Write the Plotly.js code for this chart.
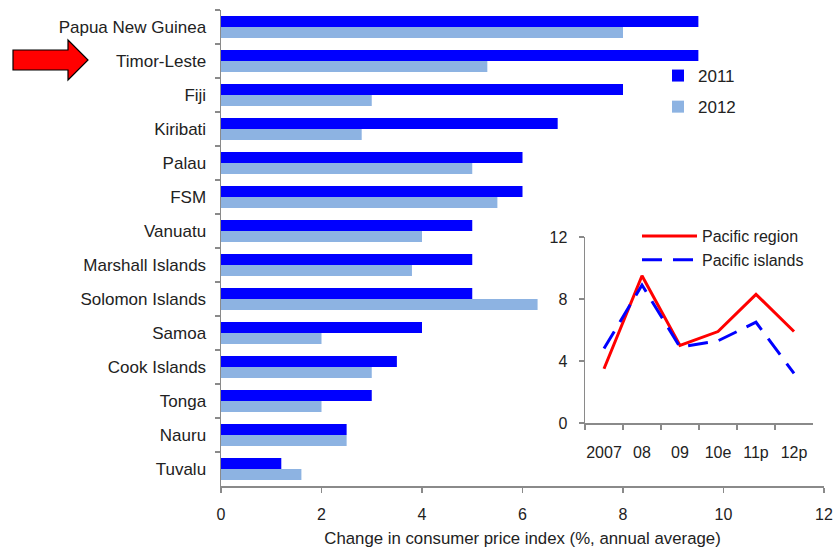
<!DOCTYPE html>
<html><head><meta charset="utf-8">
<script src="https://cdn.plot.ly/plotly-3.0.1.min.js"></script>
<style>html,body{margin:0;padding:0;background:#fff}</style>
</head><body><div id="chart" style="width:834px;height:552px"></div>
<script>
// ---- data ----
const countries = ["Papua New Guinea","Timor-Leste","Fiji","Kiribati","Palau","FSM","Vanuatu","Marshall Islands","Solomon Islands","Samoa","Cook Islands","Tonga","Nauru","Tuvalu"];
const cpi2011 = [9.5, 9.5, 8.0, 6.7, 6.0, 6.0, 5.0, 5.0, 5.0, 4.0, 3.5, 3.0, 2.5, 1.2];
const cpi2012 = [8.0, 5.3, 3.0, 2.8, 5.0, 5.5, 4.0, 3.8, 6.3, 2.0, 3.0, 2.0, 2.5, 1.6];
const insetYears = ["2007","08","09","10e","11p","12p"];
const pacificRegion = [3.5, 9.5, 5.0, 5.9, 8.3, 5.9];
const pacificIslands = [4.8, 8.9, 4.9, 5.3, 6.5, 3.2];
const xTicks = [0, 2, 4, 6, 8, 10, 12];

// ---- geometry helpers (pixel -> paper) ----
const W = 834, H = 552, L = 221, R = 10, T = 10, B = 66;
const PW = W - L - R, PH = H - T - B;
const px = x => (x - L) / PW;
const py = y => (H - B - y) / PH;

const FONT = "Liberation Sans, Arial, sans-serif";
const TXT = "#222";
const AX = "#8a8a8a";

const traces = [
  {type: "bar", orientation: "h", name: "2011", y: countries, x: cpi2011,
   marker: {color: "#0000FF"}, legend: "legend", legendgroup: "a", hoverinfo: "x+y"},
  {type: "bar", orientation: "h", name: "2012", y: countries, x: cpi2012,
   marker: {color: "#8DB3E2"}, legend: "legend", legendgroup: "b", hoverinfo: "x+y"},
  {type: "scatter", mode: "lines", name: "Pacific region", x: insetYears, y: pacificRegion,
   xaxis: "x2", yaxis: "y2", line: {color: "#FF0000", width: 3}, legend: "legend2"},
  {type: "scatter", mode: "lines", name: "Pacific islands", x: insetYears, y: pacificIslands,
   xaxis: "x2", yaxis: "y2", line: {color: "#0000FF", width: 3, dash: "20px,11px"}, legend: "legend2"}
];

const arrowPts = [[13,50],[68,50],[68,40],[88,60],[68,80],[68,70],[13,70]];
const arrowPath = "M" + arrowPts.map(p => px(p[0]).toFixed(5) + "," + py(p[1]).toFixed(5)).join(" L") + " Z";

const layout = {
  width: W, height: H,
  margin: {l: L, r: R, t: T, b: B, pad: 0},
  paper_bgcolor: "#fff", plot_bgcolor: "rgba(0,0,0,0)",
  font: {family: FONT, color: TXT, size: 16},
  barmode: "group", bargap: 0.36, bargroupgap: 0,
  showlegend: true,
  xaxis: {
    range: [0, 12], tickvals: xTicks, ticks: "outside", ticklen: 5, tickcolor: AX, tickwidth: 1.5,
    showline: true, linecolor: AX, linewidth: 1.5, showgrid: false, zeroline: false,
    tickfont: {size: 16, color: TXT}, ticklabelstandoff: 8,
    title: {text: "Change in consumer price index (%, annual average)", font: {size: 16.8, color: TXT}, standoff: 10},
    fixedrange: true
  },
  yaxis: {
    type: "category", autorange: "reversed", tickson: "boundaries",
    ticks: "outside", ticklen: 5, tickcolor: AX, tickwidth: 1.5,
    showline: true, linecolor: AX, linewidth: 1.5, showgrid: false, zeroline: false,
    tickfont: {size: 17, color: TXT}, ticklabelstandoff: 10, fixedrange: true
  },
  xaxis2: {
    domain: [px(585), px(813)], anchor: "y2", type: "category", range: [-0.5, 5.5],
    tickson: "boundaries", ticks: "outside", ticklen: 5, tickcolor: AX, tickwidth: 1.5,
    showline: true, linecolor: AX, linewidth: 1.5, showgrid: false, zeroline: false,
    tickfont: {size: 16, color: TXT}, tickangle: 0, ticklabelstandoff: 14, fixedrange: true
  },
  yaxis2: {
    domain: [py(423), py(237)], anchor: "x2", range: [0, 12], tickvals: [0, 4, 8, 12],
    ticks: "outside", ticklen: 5, tickcolor: AX, tickwidth: 1.5,
    showline: true, linecolor: AX, linewidth: 1.5, showgrid: false, zeroline: false,
    tickfont: {size: 16, color: TXT}, ticklabelstandoff: 8, fixedrange: true
  },
  legend: {
    x: px(658), y: py(58), xanchor: "left", yanchor: "top",
    bgcolor: "rgba(0,0,0,0)", font: {size: 17, color: TXT}, tracegroupgap: 6,
    traceorder: "grouped"
  },
  legend2: {
    x: px(637), y: py(219), xanchor: "left", yanchor: "top",
    bgcolor: "rgba(0,0,0,0)", font: {size: 16, color: TXT}, tracegroupgap: 0,
    traceorder: "normal", itemwidth: 55
  },
  shapes: [{
    type: "path", xref: "paper", yref: "paper", path: arrowPath,
    fillcolor: "#FF0000", line: {color: "#000", width: 1.2}, layer: "above"
  }]
};

Plotly.newPlot("chart", traces, layout, {displayModeBar: false, staticPlot: true});
</script>
</body></html>
